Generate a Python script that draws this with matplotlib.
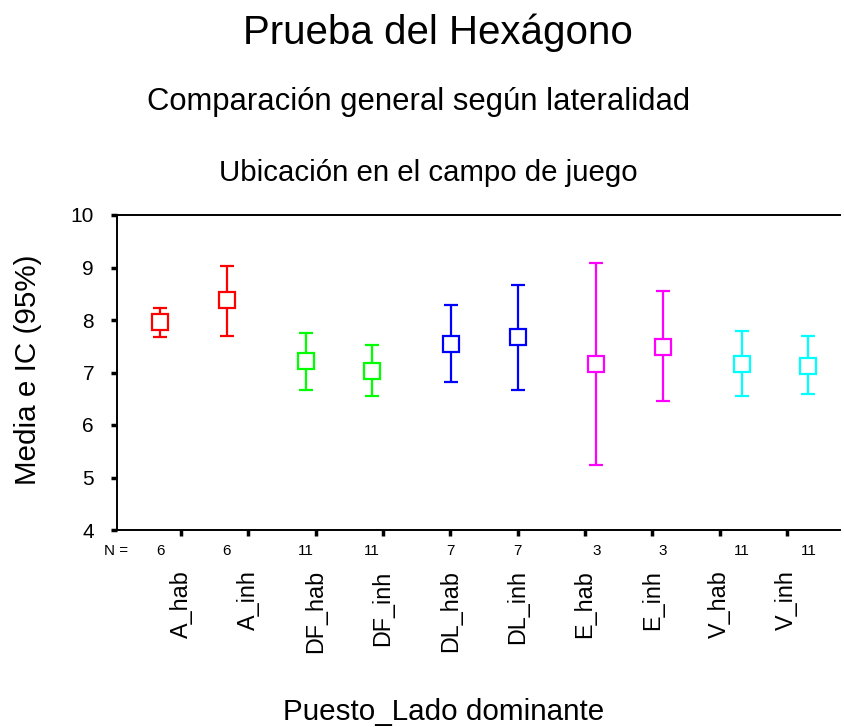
import matplotlib
matplotlib.use("Agg")
import matplotlib.pyplot as plt
import matplotlib.transforms as mtransforms

plt.rcParams['font.family'] = ['Liberation Sans', 'DejaVu Sans']

categories = ["A_hab", "A_inh", "DF_hab", "DF_inh", "DL_hab", "DL_inh",
              "E_hab", "E_inh", "V_hab", "V_inh"]
means = [7.97, 8.38, 7.22, 7.02, 7.55, 7.67, 7.16, 7.49, 7.16, 7.13]
upper = [8.23, 9.03, 7.76, 7.52, 8.29, 8.67, 9.09, 8.56, 7.79, 7.70]
lower = [7.67, 7.70, 6.66, 6.55, 6.81, 6.66, 5.24, 6.46, 6.55, 6.60]
n_values = [6, 6, 11, 11, 7, 7, 3, 3, 11, 11]
colors = ["#FF0000", "#FF0000", "#00FF00", "#00FF00", "#0000FF", "#0000FF",
          "#FF00FF", "#FF00FF", "#00FFFF", "#00FFFF"]
yticks = [4, 5, 6, 7, 8, 9, 10]

W, H = 844, 727
fig = plt.figure(figsize=(W / 100, H / 100), dpi=100)
ax = fig.add_axes([117 / W, 1 - 530 / H, 723 / W, 315 / H])

group_step, pair_step, offset = 2.16, 0.99, -0.31
trans = mtransforms.blended_transform_factory(ax.transData, ax.transAxes)
n_y = -(551 - 530) / 315
for i, cat in enumerate(categories):
    g, w = divmod(i, 2)
    x = offset + g * group_step + w * pair_step
    ax.errorbar([x], [means[i]],
                yerr=[[means[i] - lower[i]], [upper[i] - means[i]]],
                fmt='s', mfc='white', mec=colors[i], ecolor=colors[i],
                color=colors[i], ms=11, mew=1.6, elinewidth=1.6,
                capsize=4.8, capthick=1.6)
    ax.text(x, n_y, str(n_values[i]), transform=trans, ha='center',
            va='center', fontsize=11)

ax.text((128 - 117) / 723, n_y, "N =", transform=ax.transAxes, ha='right',
        va='center', fontsize=11)

ax.set_xlim(-0.951, 9.79)
ax.set_ylim(4, 10)
ax.set_yticks(yticks)
ax.set_yticklabels([str(t) for t in yticks], fontsize=15)
ax.set_xticks(range(len(categories)))
ax.set_xticklabels(categories, rotation=90, fontsize=16.8)
ax.tick_params(axis='x', length=4, width=2.5, direction='out', pad=25)
ax.tick_params(axis='y', length=4.5, width=2.5, direction='out', pad=12)

ax.spines['right'].set_visible(False)
for s in ['left', 'top', 'bottom']:
    ax.spines[s].set_linewidth(1.4)

fig.text(28 / W, 1 - 370 / H, "Media e IC (95%)", rotation=90, ha='center',
         va='center', fontsize=21.3)
fig.text(443.5 / W, 1 - 712 / H, "Puesto_Lado dominante", ha='center',
         va='center', fontsize=21.3)

fig.text(437.5 / W, 1 - 33 / H, "Prueba del Hexágono", ha='center',
         va='center', fontsize=29)
fig.text(419 / W, 1 - 102 / H, "Comparación general según lateralidad",
         ha='center', va='center', fontsize=22.3)
fig.text(428.5 / W, 1 - 173 / H, "Ubicación en el campo de juego",
         ha='center', va='center', fontsize=21.2)

fig.savefig("out.png", dpi=100)
